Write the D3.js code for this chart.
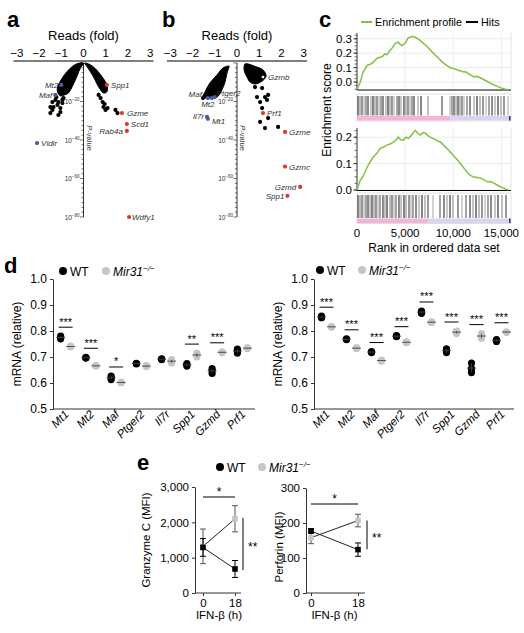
<!DOCTYPE html>
<html><head><meta charset="utf-8">
<script src="https://cdn.jsdelivr.net/npm/d3@7"></script>
<style>
body{margin:0;background:#fff}
svg{font-family:"Liberation Sans",Arial,Helvetica,sans-serif}
</style></head><body>
<svg id="fig" width="524" height="633"></svg>
<script>
// ---------------- DATA ----------------
const volcanoXTicks = [-3,-2,-1,0,1,2,3];
const volcanoYTicks = [20,40,60,80];   // -log10(P)

// panel a : dense cloud outlines [fold, -log10 P]
const aCloudLeft = [[0,0],[-0.32,0.5],[-0.63,3.1],[-0.86,6.2],[-1.04,9.4],[-1.17,12.5],[-1.17,15.1],[-1.04,17.1],[-0.86,16.6],[-0.68,15.6],[-0.54,13.0],[-0.41,9.9],[-0.27,6.2],[-0.14,2.6],[0,0.5]];
const aCloudRight = [[0.05,0],[0.32,1.0],[0.59,3.6],[0.81,6.8],[0.99,9.9],[1.08,13.0],[1.04,15.1],[0.9,15.6],[0.77,14.0],[0.63,11.4],[0.5,8.3],[0.32,4.7],[0.14,1.6]];
const aDots = [[-1.40,20.3],[-1.26,19.2],[-1.13,20.3],[-1.49,22.9],[-1.35,22.9],[-1.17,21.8],[-0.95,20.8],[-1.40,24.4],[-1.04,25.5],[-1.13,27.0],[-1.49,26.0],[-0.95,19.2],[-0.9,18.2],[-1.22,17.7],[-1.04,23.4],
  [0.77,18.2],[0.86,20.3],[0.9,22.9],[0.99,24.4],[1.08,23.4],[1.44,24.4],[1.53,26.0],[0.68,16.6],[0.95,21.3]];
const aGenes = ["Mt2","Maf","Vldlr","Spp1","Gzme","Scd1","Rab4a","Wdfy1"];
const aGeneFold = [-1.0,-1.27,-2.09,1.05,1.73,1.95,1.95,2.05];
const aGeneLogP = [11.4,16.6,41.6,11.4,26.0,31.7,35.3,80.0];
const aGeneDir = ["down","down","down","up","up","up","up","up"];

// panel b
const bCloudLeft = [[-0.36,1.6],[-0.63,2.6],[-0.9,6.2],[-1.22,10.4],[-1.44,15.1],[-1.53,17.7],[-1.31,18.2],[-0.9,17.7],[-0.68,14.0],[-0.54,9.9],[-0.45,5.2],[-0.36,2.1]];
const bCloudRight = [[0.36,0.5],[0.32,3.6],[0.45,7.3],[0.59,9.9],[0.81,10.9],[1.13,9.4],[1.31,6.8],[1.17,3.6],[0.77,1.6],[0.5,0.5]];
const bDots = [[-1.53,18.2],[-1.45,17.0],[0.81,12.5],[1.13,13.0],[0.9,17.7],[1.26,17.7],[1.4,16.6],[1.35,19.2],[1.04,20.3],[1.13,23.4],[1.4,28.6],[1.04,30.6],[1.26,33.8],[1.85,33.2]];
const bGenes = ["Gzmb","Maf","Mt2","Ptger2","Il7r","Mt1","Prf1","Gzme","Gzmc","Gzmd","Spp1"];
const bGeneFold = [1.17,-1.31,-1.13,-1.0,-1.35,-1.31,1.17,2.16,2.16,2.84,2.27];
const bGeneLogP = [7.3,18.2,18.2,17.7,28.0,29.0,26.0,35.8,53.8,64.4,69.0];
const bGeneDir = ["none","down","down","down","down","down","up","up","up","up","up"];

// panel c : GSEA running enrichment score [rank, ES]
const rankTicks = [0,5000,10000,15000];
const esTicksTop = [0,0.1,0.2,0.3];
const esTicksBottom = [0,0.1,0.2];
const profileTop = [[0,-0.05],[310,-0.005],[520,0.04],[630,0.07],[840,0.09],[1050,0.115],[1250,0.12],[1560,0.13],[1800,0.145],[2080,0.165],[2400,0.172],[2600,0.175],[2900,0.195],[3100,0.19],[3450,0.22],[3700,0.24],[3970,0.268],[4290,0.276],[4500,0.26],[4700,0.253],[5020,0.27],[5330,0.308],[5550,0.31],[5750,0.317],[6000,0.312],[6270,0.302],[6600,0.285],[6900,0.268],[7300,0.245],[7640,0.22],[8000,0.195],[8370,0.172],[8700,0.15],[9000,0.131],[9400,0.112],[9730,0.098],[10000,0.094],[10250,0.088],[10600,0.08],[11090,0.07],[11300,0.072],[11500,0.062],[11800,0.05],[12130,0.036],[12400,0.04],[12870,0.028],[13200,0.016],[13600,0.002],[14000,-0.012],[14230,-0.02],[14600,-0.03],[14960,-0.04],[15300,-0.048],[15700,-0.053]];
const profileBottom = [[0,0],[310,0.035],[600,0.05],[840,0.068],[1100,0.09],[1360,0.106],[1700,0.125],[2090,0.14],[2400,0.158],[2720,0.162],[3100,0.17],[3500,0.175],[3770,0.181],[4000,0.188],[4290,0.2],[4550,0.19],[4810,0.189],[5100,0.2],[5330,0.196],[5600,0.205],[5800,0.215],[6070,0.226],[6300,0.215],[6590,0.208],[6850,0.218],[7110,0.215],[7400,0.205],[7850,0.196],[8200,0.19],[8680,0.181],[9000,0.17],[9410,0.155],[9900,0.135],[10460,0.113],[11000,0.088],[11500,0.064],[11800,0.055],[12130,0.049],[12500,0.047],[12870,0.045],[13200,0.038],[13600,0.03],[13900,0.032],[14230,0.026],[14600,0.018],[14960,0.011],[15300,0.006],[15700,0]];
const hitsTop = [104,312,519,727,935,1143,1455,1662,1870,2078,2286,2494,2701,3013,3221,3429,3636,3844,4156,4364,4572,4883,5091,5299,5507,5715,5922,6338,6650,7377,8832,9663,9871,10078,10286,10494,10702,10910,11117,11429,11741,12156,12468,12780,13091,13403,13715,14027,14338,14650,14962,15273,15689];
const hitsBottom = [104,312,519,727,935,1143,1351,1558,1766,1974,2182,2390,2701,2909,3117,3429,3636,3844,4052,4364,4572,4883,5091,5403,5611,5818,6130,6442,6753,7065,7377,7896,8624,9039,9351,9663,9974,10494,10910,11325,11741,12052,12364,12676,12988,13299,13611,13923,14338,14650,15065,15481];
const rankMax = 16000;
const bandSplitTop = 9700, bandSplitBottom = 7400;

// panel d : mRNA (relative), 3 replicates
const genesD = ["Mt1","Mt2","Maf","Ptger2","Il7r","Spp1","Gzmd","Prf1"];
const mrnaTicks = [0.5,0.6,0.7,0.8,0.9,1.0];
const d1WT = [[0.770,0.775,0.780],[0.697,0.699,0.696],[0.613,0.620,0.627],[0.673,0.676,0.675],[0.690,0.693,0.692],[0.665,0.670,0.675],[0.637,0.648,0.655],[0.715,0.723,0.730]];
const d1KO = [[0.740,0.742,0.739],[0.665,0.667,0.666],[0.601,0.603,0.602],[0.663,0.667,0.665],[0.677,0.685,0.690],[0.700,0.708,0.715],[0.716,0.718,0.720],[0.733,0.735,0.734]];
const d1Sig = ["***","***","*","","","**","***",""];
const d2WT = [[0.851,0.854,0.857],[0.767,0.770,0.768],[0.717,0.721,0.719],[0.778,0.782,0.780],[0.868,0.873,0.877],[0.717,0.725,0.731],[0.640,0.655,0.677],[0.760,0.764,0.767]];
const d2KO = [[0.815,0.817,0.816],[0.733,0.735,0.734],[0.685,0.688,0.686],[0.755,0.758,0.757],[0.833,0.835,0.834],[0.790,0.797,0.800],[0.772,0.780,0.790],[0.795,0.797,0.796]];
const d2Sig = ["***","***","***","***","***","***","***","***"];

// panel e : MFI mean and error
const timesE = [0,18];
const gzmcWT = [1290,680], gzmcWTerr = [250,240];
const gzmcKO = [1320,2100], gzmcKOerr = [490,370];
const gzmcTicks = [0,1000,2000,3000];
const prfWT = [177,124], prfWTerr = [7,19];
const prfKO = [158,207], prfKOerr = [17,18];
const prfTicks = [0,100,200,300];

// ---------------- DRAW ----------------
const svg = d3.select("#fig");
const GREEN = "#84bf45", RED = "#e2352b", BLUE = "#4b5aa6", GRAY = "#c6c6c6";

function letter(t,x,y){ svg.append("text").attr("x",x).attr("y",y).attr("font-size",22).attr("font-weight","bold").text(t); }
letter("a",7,27); letter("b",162,27); letter("c",319,27); letter("d",4,273); letter("e",137,470);

function volcano(cfg){
  const g = svg.append("g");
  const x = d3.scaleLinear().domain([-3.15,3.15]).range(cfg.xr);
  const y = d3.scaleLinear().domain([0,80]).range([63,217]);
  const x0 = x(0);
  g.append("line").attr("x1",cfg.xr[0]).attr("x2",cfg.xr[1]).attr("y1",61).attr("y2",61).attr("stroke","#555").attr("stroke-width",1.3);
  g.selectAll(".xt").data(volcanoXTicks).join("text").attr("x",d=>x(d)).attr("y",57).attr("text-anchor","middle").attr("font-size",11.5).text(d=>d<0?"\u2212"+(-d):d);
  g.append("text").attr("x",x0).attr("y",40).attr("text-anchor","middle").attr("font-size",13).text("Reads (fold)");
  g.append("line").attr("x1",x0).attr("x2",x0).attr("y1",y(0)).attr("y2",y(80)).attr("stroke","#333").attr("stroke-width",1);
  g.selectAll(".mt").data(d3.range(0,80.1,2.5)).join("line").attr("x1",x0).attr("x2",d=>x0-(d%20===0?3.5:2)).attr("y1",d=>y(d)).attr("y2",d=>y(d)).attr("stroke","#333").attr("stroke-width",0.7);
  const yl = g.selectAll(".yl").data(volcanoYTicks).join("text").attr("x",x0-4).attr("y",d=>y(d)+2.5).attr("text-anchor","end").attr("font-size",6.5).attr("fill","#333");
  yl.append("tspan").text("10");
  yl.append("tspan").attr("dy",-3).attr("font-size",4.5).text(d=>"\u2212"+d);
  const pv = g.append("text").attr("transform",`translate(${x0+3},${y(39)}) rotate(90)`).attr("text-anchor","middle").attr("font-size",7.5).attr("fill","#333");
  pv.append("tspan").attr("font-style","italic").text("P"); pv.append("tspan").text("-value");
  const ln = d3.line().x(d=>x(d[0])).y(d=>y(d[1])).curve(d3.curveCatmullRomClosed);
  cfg.clouds.forEach(c=>g.append("path").attr("d",ln(c)).attr("fill","#000").attr("stroke","#000").attr("stroke-width",1).attr("stroke-linejoin","round"));
  g.selectAll(".dot").data(cfg.dots).join("circle").attr("cx",d=>x(d[0])).attr("cy",d=>y(d[1])).attr("r",2.1).attr("fill","#000");
  cfg.genes.forEach((gn,i)=>{
    const cx = x(cfg.fold[i]), cy = y(cfg.logp[i]);
    const dir = cfg.dir[i];
    g.append("circle").attr("cx",cx).attr("cy",cy).attr("r",dir==="none"?1.4:2.1).attr("fill",dir==="up"?RED:dir==="down"?BLUE:"#fff");
    const p = cfg.place[gn] || ["start",4,3];
    g.append("text").attr("x",cx+p[1]).attr("y",cy+p[2]).attr("text-anchor",p[0]).attr("font-size",8).attr("font-style","italic").attr("fill","#333").text(gn);
  });
}
volcano({xr:[13.5,153.5], clouds:[aCloudLeft,aCloudRight], dots:aDots, genes:aGenes, fold:aGeneFold, logp:aGeneLogP, dir:aGeneDir,
  place:{Mt2:["end",-3,3],Maf:["end",-3,3],Vldlr:["start",4,3],Spp1:["start",4,3],Gzme:["start",5,3],Scd1:["start",4,3],Rab4a:["end",-4,3],Wdfy1:["start",3,3]}});
volcano({xr:[167,307], clouds:[bCloudLeft,bCloudRight], dots:bDots, genes:bGenes, fold:bGeneFold, logp:bGeneLogP, dir:bGeneDir,
  place:{Gzmb:["start",5,3],Maf:["end",-6,-1],Mt2:["middle",-4,9],Ptger2:["start",2,-1],Il7r:["end",-3,2],Mt1:["start",4,5],Prf1:["start",4,3],Gzme:["start",4,3],Gzmc:["start",4,3],Gzmd:["end",-4,3],Spp1:["end",-3,3]}});

// ---- panel c ----
(function(){
  const g = svg.append("g");
  const x = d3.scaleLinear().domain([0,rankMax]).range([357,511]);
  const yT = d3.scaleLinear().domain([-0.055,0.34]).range([90,33]);
  const yB = d3.scaleLinear().domain([-0.002,0.235]).range([190.5,128]);
  // legend
  g.append("line").attr("x1",361).attr("x2",372).attr("y1",22).attr("y2",22).attr("stroke",GREEN).attr("stroke-width",2);
  g.append("text").attr("x",375).attr("y",26).attr("font-size",10.8).text("Enrichment profile");
  g.append("line").attr("x1",466).attr("x2",478).attr("y1",22).attr("y2",22).attr("stroke","#000").attr("stroke-width",2);
  g.append("text").attr("x",481).attr("y",26).attr("font-size",10.8).text("Hits");
  g.append("text").attr("transform","translate(331,110) rotate(-90)").attr("text-anchor","middle").attr("font-size",12).text("Enrichment score");
  function esPlot(y, ticks, prof, hits, split, hy0, hy1){
    const top = y.range()[1], bot = y.range()[0];
    g.selectAll(null).data(rankTicks.slice(1)).join("line").attr("x1",d=>x(d)).attr("x2",d=>x(d)).attr("y1",top).attr("y2",bot).attr("stroke","#ececec");
    g.selectAll(null).data(ticks).join("line").attr("x1",357).attr("x2",511).attr("y1",d=>y(d)).attr("y2",d=>y(d)).attr("stroke","#ececec");
    g.append("line").attr("x1",511).attr("x2",511).attr("y1",top).attr("y2",bot).attr("stroke","#e4e4e4");
    g.append("line").attr("x1",357).attr("x2",357).attr("y1",top).attr("y2",bot).attr("stroke","#333");
    const minor = d3.range(ticks[0]-0.05, y.domain()[1], 0.025).filter(v=>v>=y.domain()[0]-1e-9);
    g.selectAll(null).data(minor).join("line").attr("x1",357).attr("x2",354.5).attr("y1",d=>y(d)).attr("y2",d=>y(d)).attr("stroke","#333").attr("stroke-width",0.7);
    g.selectAll(null).data(ticks).join("line").attr("x1",357).attr("x2",353.5).attr("y1",d=>y(d)).attr("y2",d=>y(d)).attr("stroke","#333");
    g.selectAll(null).data(ticks).join("text").attr("x",352).attr("y",d=>y(d)+4).attr("text-anchor","end").attr("font-size",11.5).text(d=>d3.format(".1f")(d));
    g.append("line").attr("x1",357).attr("x2",511).attr("y1",bot).attr("y2",bot).attr("stroke","#000").attr("stroke-width",1.2);
    g.append("path").attr("d",d3.line().x(d=>x(d[0])).y(d=>y(d[1]))(prof)).attr("fill","none").attr("stroke",GREEN).attr("stroke-width",1.5);
    g.append("rect").attr("x",357).attr("y",hy0).attr("width",154).attr("height",hy1-hy0).attr("fill","#fff").attr("stroke","#d8d8d8").attr("stroke-width",0.8);
    const bandY = hy1-5;
    g.append("rect").attr("x",x(0)).attr("y",bandY).attr("width",x(split)-x(0)).attr("height",4.5).attr("fill","#f3b5d5");
    g.append("rect").attr("x",x(split)).attr("y",bandY).attr("width",x(rankMax)-x(split)).attr("height",4.5).attr("fill","#dad2ef");
    g.append("rect").attr("x",x(rankMax)-2).attr("y",bandY).attr("width",1.5).attr("height",4.5).attr("fill","#2b2b8c");
    const op=[0.95,0.5,0.8,0.35,0.7,0.9,0.45];
    g.selectAll(null).data(hits).join("line").attr("x1",d=>x(d)).attr("x2",d=>x(d)).attr("y1",hy0+2).attr("y2",bandY-0.5).attr("stroke","#000").attr("stroke-width",1).attr("stroke-opacity",(d,i)=>op[i%op.length]);
  }
  esPlot(yT, esTicksTop, profileTop, hitsTop, bandSplitTop, 94, 121);
  esPlot(yB, esTicksBottom, profileBottom, hitsBottom, bandSplitBottom, 193, 223.5);
  g.selectAll(null).data(rankTicks).join("text").attr("x",d=>x(d)).attr("y",237).attr("text-anchor","middle").attr("font-size",11.5).text(d=>d3.format(",")(d));
  g.append("text").attr("x",434).attr("y",252).attr("text-anchor","middle").attr("font-size",12).text("Rank in ordered data set");
})();

// ---- legends ----
function legend(xWT, xKO, y){
  svg.append("circle").attr("cx",xWT).attr("cy",y).attr("r",4).attr("fill","#000");
  svg.append("text").attr("x",xWT+7).attr("y",y+4.5).attr("font-size",12).text("WT");
  svg.append("circle").attr("cx",xKO).attr("cy",y).attr("r",4).attr("fill",GRAY);
  const t = svg.append("text").attr("x",xKO+7).attr("y",y+4.5).attr("font-size",12).attr("font-style","italic");
  t.append("tspan").text("Mir31");
  t.append("tspan").attr("dy",-5).attr("font-size",8).text("\u2212/\u2212");
}
legend(63,106,271); legend(320,362,270); legend(220,262,467);

// ---- panel d ----
function dPlot(x0, x1, wt, ko, sig, labelX){
  const g = svg.append("g");
  const y = d3.scaleLinear().domain([0.5,1.0]).range([409,279]);
  const x = d3.scaleBand().domain(genesD).range([x0,x1]);
  g.append("g").attr("transform",`translate(${x0},0)`).call(d3.axisLeft(y).tickValues(mrnaTicks).tickFormat(d3.format(".1f")).tickSize(3).tickSizeOuter(0))
    .call(a=>{a.select(".domain").attr("stroke","#333");a.selectAll("text").attr("font-size",12).attr("font-family","inherit");a.selectAll("line").attr("stroke","#333");});
  g.append("line").attr("x1",x0).attr("x2",x1).attr("y1",409).attr("y2",409).attr("stroke","#333");
  g.selectAll(null).data(genesD).join("text").attr("transform",d=>`translate(${x(d)+x.bandwidth()/2+4},${415}) rotate(-45)`).attr("text-anchor","end").attr("font-size",11.5).attr("font-style","italic").text(d=>d);
  g.append("text").attr("transform",`translate(${labelX},344) rotate(-90)`).attr("text-anchor","middle").attr("font-size",12).text("mRNA (relative)");
  genesD.forEach((gn,i)=>{
    const c = x(gn)+x.bandwidth()/2;
    [[wt[i],c-5,"#000"],[ko[i],c+5,GRAY]].forEach(([vals,cx,col])=>{
      g.selectAll(null).data(vals).join("circle").attr("cx",cx).attr("cy",d=>y(d)).attr("r",3.6).attr("fill",col);
      const m = d3.mean(vals);
      g.append("line").attr("x1",cx-4.5).attr("x2",cx+4.5).attr("y1",y(m)).attr("y2",y(m)).attr("stroke","#444").attr("stroke-width",0.9);
      g.append("line").attr("x1",cx).attr("x2",cx).attr("y1",y(d3.min(vals))).attr("y2",y(d3.max(vals))).attr("stroke","#444").attr("stroke-width",0.8);
    });
    if(sig[i]){
      const ly = y(d3.max(wt[i].concat(ko[i])))-9;
      g.append("line").attr("x1",c-7).attr("x2",c+7).attr("y1",ly).attr("y2",ly).attr("stroke","#000").attr("stroke-width",1);
      g.append("text").attr("x",c).attr("y",ly-1.5).attr("text-anchor","middle").attr("font-size",11).attr("fill","#000").text(sig[i]);
    }
  });
}
dPlot(53,255,d1WT,d1KO,d1Sig,21);
dPlot(314,514,d2WT,d2KO,d2Sig,282);

// ---- panel e ----
function ePlot(cfg){
  const g = svg.append("g");
  const y = d3.scaleLinear().domain(cfg.yd).range([593,cfg.yTop]);
  const x = d3.scaleLinear().domain([0,18]).range(cfg.xr);
  g.append("g").attr("transform",`translate(${cfg.ax},0)`).call(d3.axisLeft(y).tickValues(cfg.ticks).tickFormat(d3.format(",")).tickSize(3).tickSizeOuter(0))
    .call(a=>{a.select(".domain").attr("stroke","#333");a.selectAll("text").attr("font-size",11.5).attr("font-family","inherit");a.selectAll("line").attr("stroke","#333");});
  g.append("g").attr("transform","translate(0,593)").call(d3.axisBottom(x).tickValues(timesE).tickSize(3).tickSizeOuter(0))
    .call(a=>{a.select(".domain").remove();a.selectAll("text").attr("font-size",11.5).attr("font-family","inherit");a.selectAll("line").attr("stroke","#333");});
  g.append("line").attr("x1",cfg.ax).attr("x2",cfg.axEnd).attr("y1",593).attr("y2",593).attr("stroke","#333");
  g.append("text").attr("x",(cfg.xr[0]+cfg.xr[1])/2).attr("y",619).attr("text-anchor","middle").attr("font-size",11.5).text("IFN-\u03b2 (h)");
  g.append("text").attr("transform",`translate(${cfg.lx},${cfg.ly}) rotate(-90)`).attr("text-anchor","middle").attr("font-size",11.5).text(cfg.label);
  [[cfg.ko,cfg.koErr,GRAY,"#555"],[cfg.wt,cfg.wtErr,"#000","#000"]].forEach(([m,e,col,ecol])=>{
    g.append("path").attr("d",d3.line().x((d,i)=>x(timesE[i])).y(d=>y(d))(m)).attr("fill","none").attr("stroke","#222").attr("stroke-width",1);
    timesE.forEach((t,i)=>{
      const cx=x(t);
      g.append("line").attr("x1",cx).attr("x2",cx).attr("y1",y(m[i]-e[i])).attr("y2",y(m[i]+e[i])).attr("stroke",ecol).attr("stroke-width",1);
      [m[i]-e[i],m[i]+e[i]].forEach(v=>g.append("line").attr("x1",cx-3).attr("x2",cx+3).attr("y1",y(v)).attr("y2",y(v)).attr("stroke",ecol).attr("stroke-width",1));
      g.append("rect").attr("x",cx-2.8).attr("y",y(m[i])-2.8).attr("width",5.6).attr("height",5.6).attr("fill",col);
    });
  });
  g.append("line").attr("x1",x(0)).attr("x2",x(18)).attr("y1",cfg.hy).attr("y2",cfg.hy).attr("stroke","#000");
  g.append("text").attr("x",(x(0)+x(18))/2).attr("y",cfg.hy-1).attr("text-anchor","middle").attr("font-size",12).text("*");
  g.append("line").attr("x1",cfg.vx).attr("x2",cfg.vx).attr("y1",y(cfg.vr[0])).attr("y2",y(cfg.vr[1])).attr("stroke","#000");
  g.append("text").attr("x",cfg.vx+5).attr("y",(y(cfg.vr[0])+y(cfg.vr[1]))/2+7).attr("font-size",12).text("**");
}
ePlot({yd:[0,3000],yTop:487,xr:[203,235],ax:195,axEnd:241,ticks:gzmcTicks,wt:gzmcWT,wtErr:gzmcWTerr,ko:gzmcKO,koErr:gzmcKOerr,
  label:"Granzyme C (MFI)",lx:150,ly:540,hy:497,vx:243,vr:[2130,650]});
ePlot({yd:[0,300],yTop:488,xr:[311,358],ax:306,axEnd:365,ticks:prfTicks,wt:prfWT,wtErr:prfWTerr,ko:prfKO,koErr:prfKOerr,
  label:"Perforin (MFI)",lx:283,ly:547,hy:504,vx:367,vr:[207,125]});
</script>
</body></html>
